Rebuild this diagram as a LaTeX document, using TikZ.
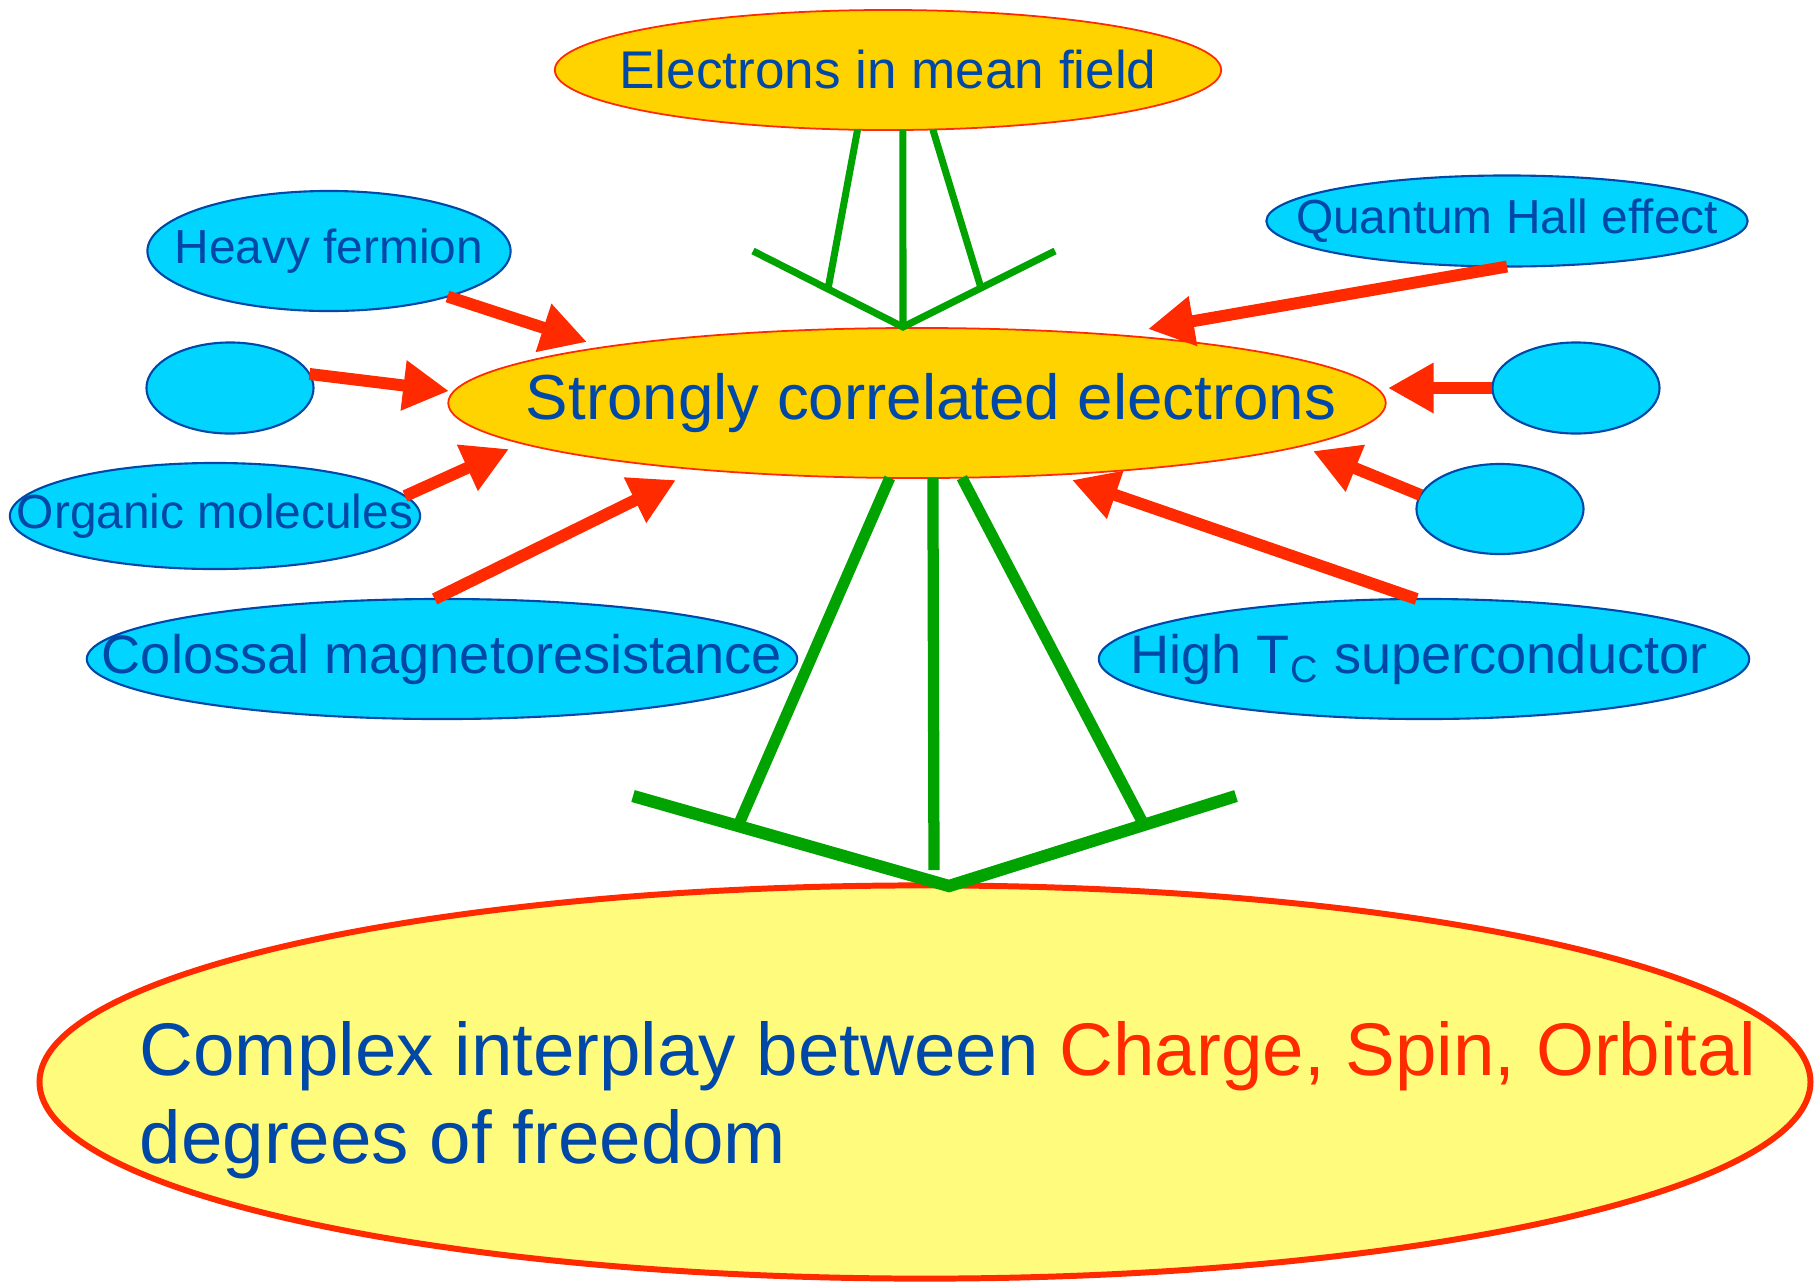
\documentclass[tikz,border=0pt]{standalone}
\usepackage{fontspec}
\setmainfont{Liberation Sans}
\usetikzlibrary{positioning,arrows.meta,shapes.geometric}

\definecolor{gold}{HTML}{FFD300}
\definecolor{skyfill}{HTML}{00D4FF}
\definecolor{inkblue}{HTML}{0048A8}
\definecolor{redline}{HTML}{FF2A00}
\definecolor{leafgreen}{HTML}{00A300}
\definecolor{paleyellow}{HTML}{FFFB7D}

\newcommand{\ctext}[1]{\makebox[0pt]{#1}}

\begin{document}
\begin{tikzpicture}[x=0.01cm, y=-0.01cm,
    core/.style={ellipse, draw=redline, line width=0.5pt, fill=gold, text=inkblue, inner sep=0pt, outer sep=0pt},
    topic/.style={ellipse, draw=inkblue, line width=0.6pt, fill=skyfill, text=inkblue, inner sep=0pt, outer sep=0pt},
    feed/.style={redline, line width=3.4pt, -{Triangle[length=13pt, width=13.5pt]}},
    branch/.style={leafgreen, line width=2pt},
    trunk/.style={leafgreen, line width=3.2pt},
    wide/.style={leafgreen, line width=3.5pt},
    small/.style={font=\fontsize{13.6}{16}\selectfont},
    medium/.style={font=\fontsize{15.4}{18}\selectfont},
]
\useasboundingbox (0,0) rectangle (1814,1281);

% --- CENTRE ---
\node[core, minimum width=6.66cm, minimum height=1.2cm, font=\fontsize{15.1}{18}\selectfont] (meanfield) at (888,70) {\ctext{Electrons in mean field}};
\node[core, minimum width=9.37cm, minimum height=1.5cm, font=\fontsize{18.1}{22}\selectfont] (strong) at (917,403) {\ctext{\hspace{0.28cm}Strongly correlated electrons}};

% --- LEFT ---
\node[topic, small, minimum width=3.63cm, minimum height=1.2cm] (heavy) at (329,251) {\ctext{Heavy fermion}};
\node[topic, minimum width=1.67cm, minimum height=0.91cm] (blankL) at (230,388) {};
\node[topic, small, minimum width=4.1cm, minimum height=1.06cm] (organic) at (215,516) {\ctext{Organic molecules}};
\node[topic, medium, minimum width=7.1cm, minimum height=1.2cm] (colossal) at (442,659) {\ctext{Colossal magnetoresistance}};

% --- RIGHT ---
\node[topic, small, minimum width=4.81cm, minimum height=0.91cm] (qhe) at (1507,221) {\ctext{Quantum Hall effect}};
\node[topic, minimum width=1.67cm, minimum height=0.91cm] (blankR) at (1576,388) {};
\node[topic, minimum width=1.67cm, minimum height=0.9cm] (blankRR) at (1500,509) {};
\node[topic, medium, minimum width=6.5cm, minimum height=1.2cm] (hightc) at (1424,659) {\ctext{High T\textsubscript{C} superconductor\hspace{0.1cm}}};

% --- BOTTOM ---
\node[ellipse, draw=redline, line width=1.7pt, fill=paleyellow, inner sep=0pt, outer sep=0pt,
      minimum width=17.7cm, minimum height=3.93cm] (freedom) at (925,1082) {};
\node[anchor=north west, align=left, inner sep=0pt, text=inkblue, font=\fontsize{21.2}{25}\selectfont]
    (interplay) at (139,1021) {Complex interplay between \textcolor{redline}{Charge, Spin, Orbital}\\degrees of freedom};

% red feeds into the centre
\coordinate (tipHeavy) at (587,342);
\coordinate (tipBlankL) at (449,391);
\coordinate (tipOrganic) at (509,449);
\coordinate (tipColossal) at (676,480);
\coordinate (tipQhe) at (1148,329);
\coordinate (tipBlankR) at (1388,388);
\coordinate (tipBlankRR) at (1313,451);
\coordinate (tipHightc) at (1072,480);

\draw[feed] (heavy.-21) -- (tipHeavy);
\draw[feed] (blankL.10) -- (tipBlankL);
\draw[feed] (organic.6) -- (tipOrganic);
\draw[feed] (colossal.97) -- (tipColossal);
\draw[feed] (qhe.south) -- (tipQhe);
\draw[feed] (blankR.west) -- (tipBlankR);
\draw[feed] (blankRR.170) -- (tipBlankRR);
\draw[feed] (hightc.97) -- (tipHightc);

% green fork, top
\coordinate (apexTop) at (903,327);
\coordinate (wingTL) at (753,251);
\coordinate (wingTR) at (1055,251);
\coordinate (footTL) at (828,289);
\coordinate (footTR) at (981,288);
\draw[branch] (meanfield.-76) -- (apexTop);
\draw[branch] (meanfield.-117) -- (footTL);
\draw[branch] (meanfield.-53) -- (footTR);
\draw[branch] (wingTL) -- (apexTop) -- (wingTR);

% green fork, bottom
\coordinate (apexBot) at (949,886);
\coordinate (wingBL) at (633,796);
\coordinate (wingBR) at (1236,796);
\coordinate (footBL) at (738,826);
\coordinate (footBR) at (1144,825);
\coordinate (stemBot) at (934,870);
\draw[trunk] (strong.-78) -- (stemBot);
\draw[trunk] (strong.-110) -- (footBL);
\draw[trunk] (strong.-59) -- (footBR);
\draw[wide] (wingBL) -- (apexBot) -- (wingBR);

\end{tikzpicture}
\end{document}
